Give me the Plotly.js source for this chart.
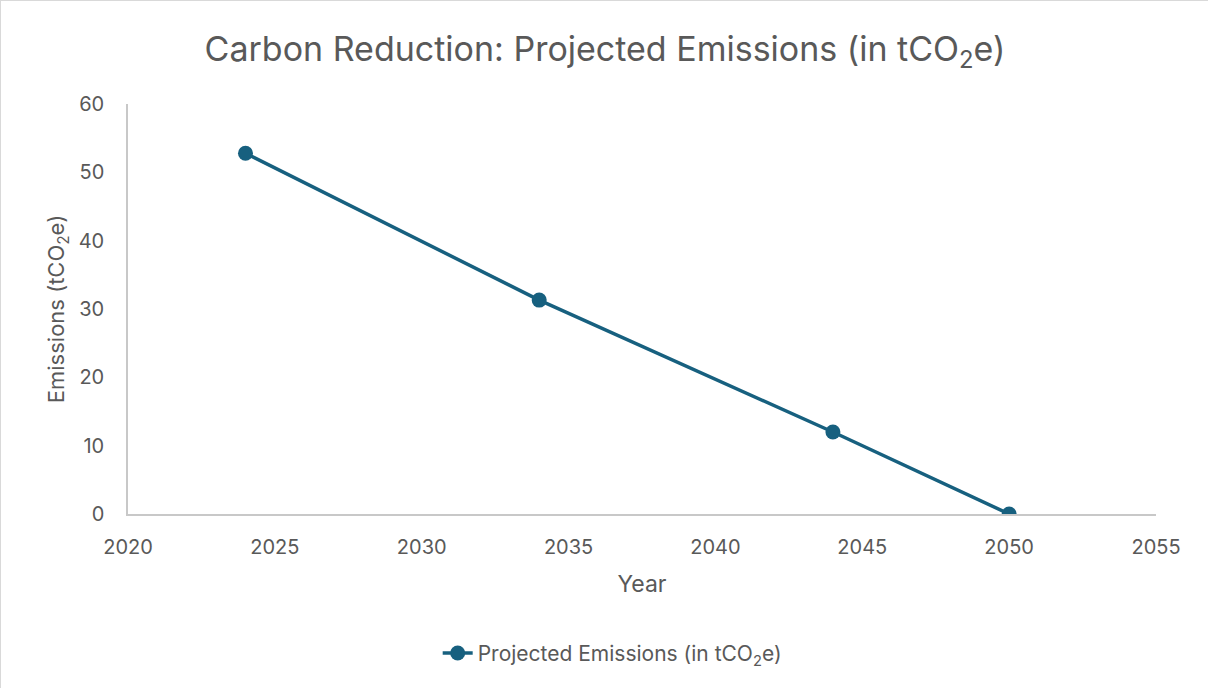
<!DOCTYPE html>
<html>
<head>
<meta charset="utf-8">
<script src="https://cdn.plot.ly/plotly-3.0.1.min.js"></script>
<style>
html,body{margin:0;padding:0;background:#fff;}
#chart{width:1208px;height:688px;box-sizing:border-box;border:1px solid #d9d9d9;}
</style>
</head>
<body>
<div id="chart"></div>
<script>
const years = [2024, 2034, 2044, 2050];
const emissions = [52.8, 31.3, 12.0, 0];
const seriesName = 'Projected Emissions (in tCO<sub>2</sub>e)';

const color = '#17607f';
const textColor = '#595959';
const fontFam = 'Inter, "Open Sans", Roboto, sans-serif';

const trace = {
  x: years, y: emissions, type: 'scatter', mode: 'lines+markers',
  name: seriesName,
  line: {color: color, width: 3.5},
  marker: {color: color, size: 15}
};

const layout = {
  width: 1208, height: 688,
  margin: {l: 127, r: 53, t: 103, b: 175},
  paper_bgcolor: '#fff', plot_bgcolor: '#fff',
  font: {family: fontFam, color: textColor, size: 20},
  title: {text: 'Carbon Reduction: Projected Emissions (in tCO<sub>2</sub>e)',
          font: {size: 34, color: textColor, family: fontFam},
          x: 0.5, xanchor: 'center', y: 0.93, yanchor: 'middle'},
  xaxis: {range: [2020, 2055], dtick: 5, tick0: 2020, showgrid: false, zeroline: false,
          showline: true, linecolor: '#c8c8c8', linewidth: 1.5,
          ticks: 'outside', ticklen: 14, tickcolor: 'rgba(0,0,0,0)',
          tickfont: {size: 20, color: textColor},
          title: {text: 'Year', font: {size: 23, color: textColor}, standoff: 18}},
  yaxis: {range: [0, 60], dtick: 10, showgrid: false, zeroline: false,
          showline: true, linecolor: '#c8c8c8', linewidth: 1.5,
          ticks: 'outside', ticklen: 18, tickcolor: 'rgba(0,0,0,0)',
          tickfont: {size: 20, color: textColor},
          title: {text: 'Emissions (tCO<sub>2</sub>e)', font: {size: 22, color: textColor}, standoff: 8}},
  showlegend: true,
  legend: {orientation: 'h', x: 0.471, xanchor: 'center', y: -0.34, yanchor: 'middle',
           font: {size: 21, color: textColor}}
};

Plotly.newPlot('chart', [trace], layout, {displayModeBar: false});
</script>
</body>
</html>
